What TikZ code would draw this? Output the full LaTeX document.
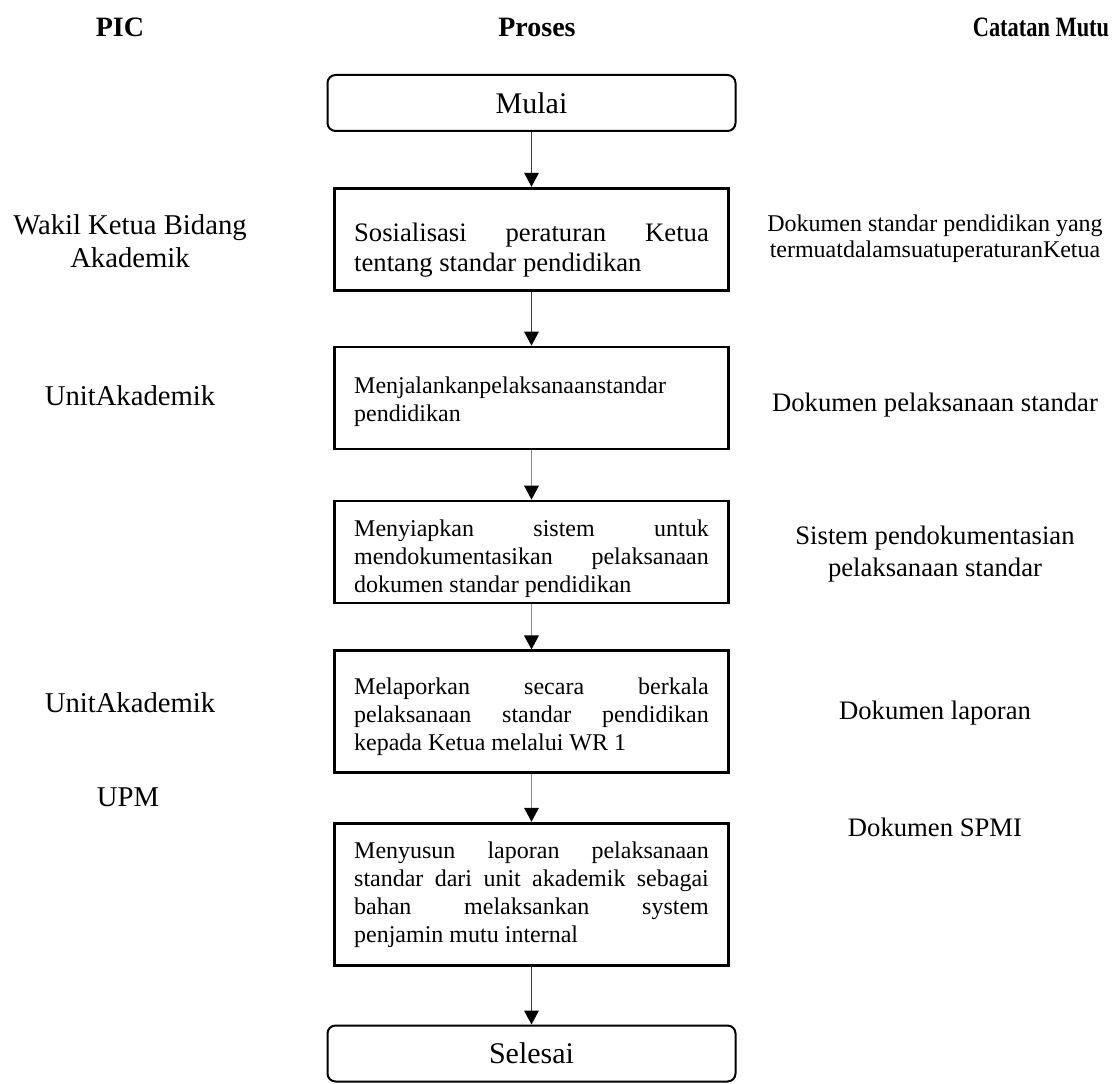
\documentclass[tikz,border=0pt]{standalone}
\usepackage{fontspec}
\usepackage{graphicx}
\setmainfont{Liberation Serif}
\usetikzlibrary{arrows.meta,positioning}
\definecolor{fcdark}{HTML}{3C3C3C}
\definecolor{fcgrey}{HTML}{8C8C8C}
\hyphenpenalty=10000
\exhyphenpenalty=10000

\begin{document}
\begin{tikzpicture}[x=0.75pt, y=-0.75pt,
    header/.style={font=\fontsize{21}{25}\selectfont\bfseries},
    startend/.style={draw, line width=1.5pt, rounded corners=6pt, minimum width=306pt, minimum height=42pt, font=\fontsize{22.5}{26}\selectfont},
    prosesbox/.style={draw, line width=2.1pt, text width=266pt, align=justify, inner xsep=15pt, inner ysep=0pt, font=\fontsize{18}{21}\selectfont},
    piclabel/.style={align=center, font=\fontsize{21.5}{25}\selectfont},
    catatan/.style={align=center, font=\fontsize{20}{24}\selectfont},
    flow/.style={-{Triangle[length=10.5pt, width=11pt, color=black]}, line width=1.1pt}]
    \useasboundingbox (0,0) rectangle (1114,1084);

    % kolom judul
    \node[header] (hpic) at (120, 27) {PIC};
    \node[header] (hproses) at (537, 27) {Proses};
    \node[header] (hcatatan) at (1041, 27) {\scalebox{0.8}[1]{Catatan Mutu}};

    % alur proses
    \node[startend] (mulai) at (531.5, 103) {Mulai};
    \node[prosesbox, minimum height=77pt, font=\fontsize{20}{22.5}\selectfont] (sosialisasi) at (531.5, 239.5)
        {\rule{0pt}{30pt}Sosialisasi peraturan Ketua\linebreak tentang standar pendidikan};
    \node[prosesbox, minimum height=76.5pt] (menjalankan) at (531.5, 398)
        {\rule{0pt}{18pt}Menjalankanpelaksanaanstandar\newline pendidikan};
    \node[prosesbox, minimum height=76.5pt] (menyiapkan) at (531.5, 552)
        {\rule{0pt}{22pt}Menyiapkan sistem untuk\linebreak mendokumentasikan pelaksanaan\linebreak dokumen standar pendidikan};
    \node[prosesbox, minimum height=91pt] (melaporkan) at (531.5, 711.5)
        {\rule{0pt}{20pt}Melaporkan secara berkala\linebreak pelaksanaan standar pendidikan\linebreak kepada Ketua melalui WR 1};
    \node[prosesbox, minimum height=107pt] (menyusun) at (531.5, 894.5)
        {Menyusun laporan pelaksanaan\linebreak standar dari unit akademik sebagai\linebreak bahan melaksankan system\linebreak penjamin mutu internal};
    \node[startend] (selesai) at (531.5, 1053.5) {Selesai};

    \draw[flow, fcdark] (mulai.south) -- (sosialisasi.north);
    \draw[flow, fcdark] (sosialisasi.south) -- (menjalankan.north);
    \draw[flow, fcgrey] (menjalankan.south) -- (menyiapkan.north);
    \draw[flow, fcgrey] (menyiapkan.south) -- (melaporkan.north);
    \draw[flow, fcgrey] (melaporkan.south) -- (menyusun.north);
    \draw[flow, fcdark] (menyusun.south) -- (selesai.north);

    % PIC
    \node[piclabel] (pwakil) at (130, 241) {Wakil Ketua Bidang\\Akademik};
    \node[piclabel] (punit1) at (130, 396) {UnitAkademik};
    \node[piclabel] (punit2) at (130, 703) {UnitAkademik};
    \node[piclabel] (pupm) at (128, 797) {UPM};

    % catatan mutu
    \node[catatan, font=\fontsize{18}{19.5}\selectfont] (cstandar) at (935, 239) {Dokumen standar pendidikan yang\\termuatdalamsuatuperaturanKetua};
    \node[catatan] (cpelaksanaan) at (935, 405) {Dokumen pelaksanaan standar};
    \node[catatan] (csistem) at (935, 554) {Sistem pendokumentasian\\pelaksanaan standar};
    \node[catatan] (claporan) at (935, 713) {Dokumen laporan};
    \node[catatan] (cspmi) at (935, 827) {Dokumen SPMI};
\end{tikzpicture}
\end{document}
